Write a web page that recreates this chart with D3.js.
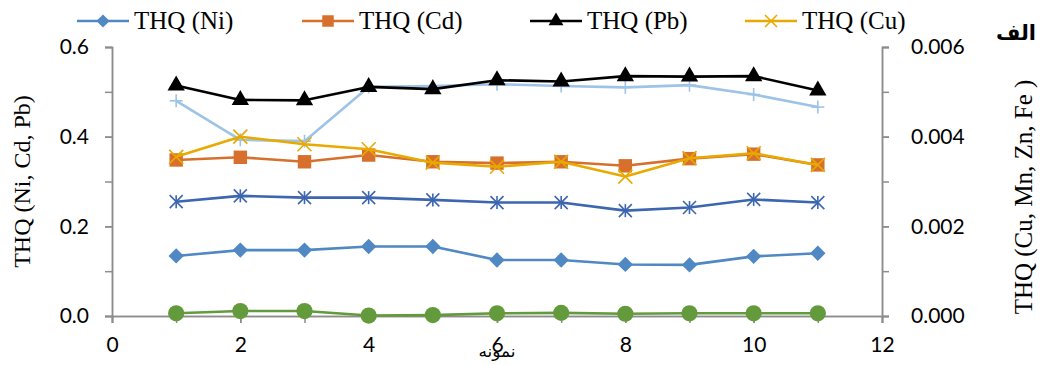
<!DOCTYPE html>
<html>
<head>
<meta charset="utf-8">
<script src="https://cdn.jsdelivr.net/npm/d3@7"></script>
<style>
  html, body { margin: 0; padding: 0; background: #fff; }
  svg { display: block; }
</style>
</head>
<body>
<svg id="chart" width="1051" height="365"></svg>
<script>
// Sample numbers along the x axis
const samples = [1, 2, 3, 4, 5, 6, 7, 8, 9, 10, 11];

// Left-axis series (THQ of Ni, Cd, Pb)
const thqNi = [0.134, 0.147, 0.147, 0.155, 0.155, 0.125, 0.125, 0.115, 0.114, 0.133, 0.140];
const thqCd = [0.348, 0.354, 0.344, 0.359, 0.344, 0.341, 0.344, 0.335, 0.351, 0.361, 0.337];
const thqPb = [0.514, 0.482, 0.481, 0.511, 0.506, 0.526, 0.523, 0.535, 0.534, 0.535, 0.503];

// Right-axis series (THQ of Cu, Mn, Zn, Fe)
const thqCu = [0.00355, 0.00400, 0.00383, 0.00372, 0.00342, 0.00333, 0.00344, 0.00311, 0.00352, 0.00363, 0.00337];
const thqMn = [0.00255, 0.00268, 0.00264, 0.00264, 0.00259, 0.00253, 0.00253, 0.00235, 0.00242, 0.00260, 0.00253];
const thqZn = [0.00006, 0.00011, 0.00011, 0.00001, 0.00002, 0.00006, 0.00007, 0.00005, 0.00006, 0.00006, 0.00006];
const thqFe = [0.00480, 0.00393, 0.00390, 0.00511, 0.00513, 0.00517, 0.00513, 0.00510, 0.00515, 0.00494, 0.00466];

// Axis tick labels
const xTicks = [0, 2, 4, 6, 8, 10, 12];
const leftTicks = [0, 0.2, 0.4, 0.6];
const rightTicks = [0, 0.002, 0.004, 0.006];

const legendNames = ["THQ (Ni)", "THQ (Cd)", "THQ (Pb)", "THQ (Cu)"];

const svg = d3.select("#chart");
const axisColor = "#8c8c8c";
const tickFont = "Lato, 'Open Sans', sans-serif";
const serif = "'Liberation Serif', 'DejaVu Serif', serif";

const x = d3.scaleLinear().domain([0, 12]).range([112, 882]);
const yL = d3.scaleLinear().domain([0, 0.6]).range([316, 47]);
const yR = d3.scaleLinear().domain([0, 0.006]).range([316, 47]);

// ---- axes ----
const gxMinor = svg.append("g").attr("transform", `translate(0,${yL(0)})`)
  .call(d3.axisBottom(x).tickValues(d3.range(0, 13, 1)).tickSize(7).tickFormat(""));
const gx = svg.append("g").attr("transform", `translate(0,${yL(0)})`)
  .call(d3.axisBottom(x).tickValues(xTicks).tickSize(7).tickPadding(14).tickFormat(d3.format("d")));

const gyMinor = svg.append("g").attr("transform", `translate(${x(0)},0)`)
  .call(d3.axisLeft(yL).tickValues(d3.range(0, 0.61, 0.1)).tickSize(7).tickFormat(""));
const gy = svg.append("g").attr("transform", `translate(${x(0)},0)`)
  .call(d3.axisLeft(yL).tickValues(leftTicks).tickSize(7).tickPadding(16).tickFormat(d3.format(".1f")));

const gyrMinor = svg.append("g").attr("transform", `translate(${x(12)},0)`)
  .call(d3.axisRight(yR).tickValues(d3.range(0, 0.00601, 0.001)).tickSize(7).tickFormat(""));
const gyr = svg.append("g").attr("transform", `translate(${x(12)},0)`)
  .call(d3.axisRight(yR).tickValues(rightTicks).tickSize(7).tickPadding(22).tickFormat(d3.format(".3f")));

[gxMinor, gx, gyMinor, gy, gyrMinor, gyr].forEach(g => {
  g.select(".domain").attr("stroke", axisColor).attr("stroke-width", 1.5);
  g.selectAll(".tick line").attr("stroke", axisColor).attr("stroke-width", 1.5);
  g.selectAll(".tick text").attr("fill", "#000").style("font-family", tickFont).style("font-size", "21px");
});
gx.selectAll(".tick text").attr("dy", "0.71em");

// ---- series ----
const symbolShapes = {
  diamond: d3.symbolDiamond2,
  square: d3.symbolSquare,
  triangle: d3.symbolTriangle,
  circle: d3.symbolCircle
};

function drawMarker(g, type, cx, cy, color, size) {
  if (type === "x" || type === "plus" || type === "asterisk") {
    const h = size / 2;
    let segs = [];
    if (type === "x" || type === "asterisk") segs.push([-h, -h, h, h], [-h, h, h, -h]);
    if (type === "plus" || type === "asterisk") segs.push([0, -h, 0, h]);
    if (type === "plus") segs.push([-h, 0, h, 0]);
    segs.forEach(s => g.append("line")
      .attr("x1", cx + s[0]).attr("y1", cy + s[1]).attr("x2", cx + s[2]).attr("y2", cy + s[3])
      .attr("stroke", color).attr("stroke-width", 1.6));
  } else {
    const area = { diamond: 150, square: 180, triangle: 130, circle: 180 }[type] * (size / 14) * (size / 14);
    g.append("path")
      .attr("d", d3.symbol().type(symbolShapes[type]).size(area)())
      .attr("transform", `translate(${cx},${cy})`)
      .attr("fill", color);
  }
}

const series = [
  { values: thqFe, y: yR, color: "#9dc3e6", marker: "plus", size: 13 },
  { values: thqZn, y: yR, color: "#629a3c", marker: "circle", size: 15 },
  { values: thqMn, y: yR, color: "#3c66b0", marker: "asterisk", size: 13 },
  { values: thqNi, y: yL, color: "#4f88c2", marker: "diamond", size: 14 },
  { values: thqCd, y: yL, color: "#d6702c", marker: "square", size: 14 },
  { values: thqPb, y: yL, color: "#000000", marker: "triangle", size: 14 },
  { values: thqCu, y: yR, color: "#e8a900", marker: "x", size: 14 }
];

const plot = svg.append("g");
series.forEach(s => {
  const line = d3.line().x((d, i) => x(samples[i])).y(d => s.y(d));
  const g = plot.append("g");
  g.append("path").datum(s.values).attr("d", line)
    .attr("fill", "none").attr("stroke", s.color).attr("stroke-width", 2.6)
    .attr("stroke-linejoin", "round");
  s.values.forEach((v, i) => drawMarker(g, s.marker, x(samples[i]), s.y(v), s.color, s.size));
});

// ---- legend ----
const legendItems = [
  { name: legendNames[0], color: "#4f88c2", marker: "diamond", x0: 77 },
  { name: legendNames[1], color: "#d6702c", marker: "square", x0: 302 },
  { name: legendNames[2], color: "#000000", marker: "triangle", x0: 530 },
  { name: legendNames[3], color: "#e8a900", marker: "x", x0: 745 }
];
const lg = svg.append("g");
legendItems.forEach(it => {
  const ly = 21;
  lg.append("line").attr("x1", it.x0).attr("x2", it.x0 + 52).attr("y1", ly).attr("y2", ly)
    .attr("stroke", it.color).attr("stroke-width", 2.6);
  drawMarker(lg, it.marker, it.x0 + 26, ly, it.color, 12);
  lg.append("text").attr("x", it.x0 + 57).attr("y", ly + 8)
    .style("font-family", serif).style("font-size", "25px").text(it.name);
});

// ---- axis titles ----
svg.append("text")
  .attr("transform", `translate(30,${(yL(0) + yL(0.6)) / 2}) rotate(-90)`)
  .attr("text-anchor", "middle")
  .style("font-family", serif).style("font-size", "24px")
  .text("THQ (Ni, Cd, Pb)");

svg.append("text")
  .attr("transform", `translate(1032,197) rotate(-90)`)
  .attr("text-anchor", "middle")
  .style("font-family", serif).style("font-size", "25px")
  .text("THQ (Cu, Mn, Zn, Fe )");

svg.append("text")
  .attr("x", 497).attr("y", 357)
  .attr("text-anchor", "middle")
  .style("font-family", "'DejaVu Sans', 'Noto Sans', sans-serif").style("font-size", "17px")
  .text("نمونه");

svg.append("text")
  .attr("x", 1016).attr("y", 40)
  .attr("text-anchor", "middle")
  .style("font-family", "'DejaVu Sans', 'Noto Sans', sans-serif").style("font-size", "21px")
  .style("font-weight", "bold")
  .text("الف");
</script>
</body>
</html>
